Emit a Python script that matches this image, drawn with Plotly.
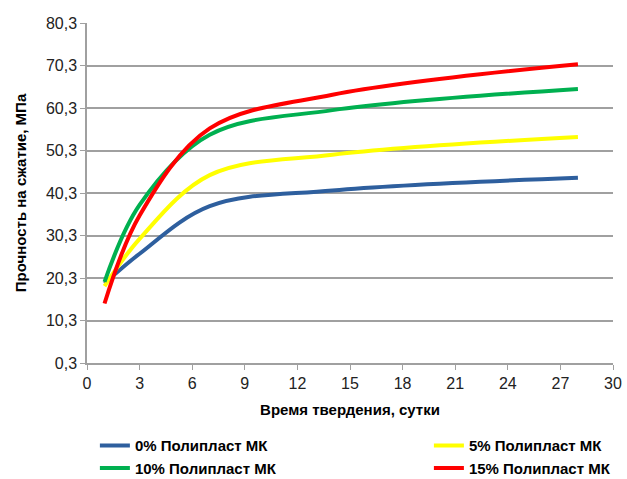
import plotly.graph_objects as go

days = [1, 3, 7, 14, 28]
s0 = [19.0, 26.0, 37.2, 40.9, 43.9]
s5 = [18.4, 29.5, 44.5, 49.3, 53.5]
s10 = [19.4, 37.5, 54.0, 59.8, 64.8]
s15 = [14.3, 35.0, 55.5, 63.4, 70.6]
names = ["0% Полипласт МК", "5% Полипласт МК", "10% Полипласт МК", "15% Полипласт МК"]
colors = ["#2e5f9e", "#ffff00", "#00b050", "#ff0000"]
yticks = [0.3, 10.3, 20.3, 30.3, 40.3, 50.3, 60.3, 70.3, 80.3]
ylabels = ["0,3", "10,3", "20,3", "30,3", "40,3", "50,3", "60,3", "70,3", "80,3"]
xticks = list(range(0, 31, 3))

FONT = "Liberation Sans Narrow, Arial Narrow, Liberation Sans, sans-serif"

series = [(names[0], s0, colors[0], "legend"), (names[1], s5, colors[1], "legend2"),
          (names[2], s10, colors[2], "legend"), (names[3], s15, colors[3], "legend2")]

fig = go.Figure()
for name, ys, c, lg in series:
    fig.add_trace(go.Scatter(x=days, y=ys, name=name, mode="lines", legend=lg,
                             line=dict(color=c, width=4, shape="spline", smoothing=1.0)))

legend_common = dict(orientation="v", yanchor="top", xanchor="left",
                     font=dict(size=15, weight="bold"), itemwidth=30,
                     bgcolor="rgba(0,0,0,0)", tracegroupgap=0)

fig.update_layout(
    width=627, height=479,
    margin=dict(l=87, r=14, t=23, b=116, autoexpand=False),
    paper_bgcolor="white", plot_bgcolor="white",
    font=dict(family=FONT, size=15, color="black"),
    xaxis=dict(range=[0, 30], tickvals=xticks, showgrid=False,
               showline=True, linecolor="#a0a0a0", linewidth=1.5,
               ticks="outside", ticklen=5, tickcolor="#a0a0a0",
               tickfont=dict(size=16, color="#222222"),
               title=dict(text="<b>Время твердения, сутки</b>", font=dict(size=15), standoff=14),
               zeroline=False, automargin=False),
    yaxis=dict(range=[0.3, 80.3], tickvals=yticks, ticktext=ylabels,
               showgrid=True, gridcolor="#a0a0a0", gridwidth=1.5,
               showline=True, linecolor="#a0a0a0", linewidth=1.5,
               ticks="outside", ticklen=5, tickcolor="#a0a0a0",
               tickfont=dict(size=16, color="#222222"),
               title=dict(text="<b>Прочность на сжатие, МПа</b>", font=dict(size=15), standoff=16),
               zeroline=False, automargin=False),
    legend=dict(x=0.015, y=-0.195, **legend_common),
    legend2=dict(x=0.65, y=-0.195, **legend_common),
    showlegend=True,
)
fig.write_html("out.html")
